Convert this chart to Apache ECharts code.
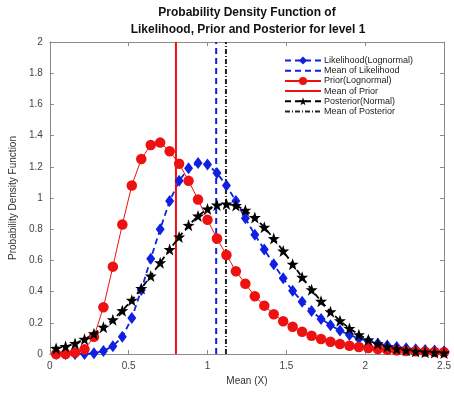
<!DOCTYPE html>
<html><head><meta charset="utf-8">
<script src="https://cdn.jsdelivr.net/npm/echarts@6/dist/echarts.min.js"></script>
<style>html,body{margin:0;padding:0;background:#fff}#c{width:454px;height:398px}</style>
</head><body><div id="c"></div>
<script>
const xs = [0.04,0.10,0.16,0.22,0.28,0.34,0.40,0.46,0.52,0.58,0.64,0.70,0.76,0.82,0.88,0.94,1.00,1.06,1.12,1.18,1.24,1.30,1.36,1.42,1.48,1.54,1.60,1.66,1.72,1.78,1.84,1.90,1.96,2.02,2.08,2.14,2.20,2.26,2.32,2.38,2.44,2.50];
const likelihood = [0.00,0.00,0.00,0.00,0.005,0.02,0.05,0.11,0.23,0.41,0.61,0.80,0.98,1.11,1.19,1.225,1.215,1.16,1.08,0.98,0.87,0.765,0.67,0.575,0.485,0.405,0.335,0.275,0.225,0.185,0.15,0.122,0.10,0.082,0.067,0.055,0.045,0.037,0.031,0.026,0.022,0.018];
const prior = [0.00,0.00,0.01,0.03,0.11,0.30,0.56,0.83,1.08,1.25,1.34,1.355,1.30,1.22,1.11,0.99,0.86,0.74,0.635,0.53,0.45,0.37,0.31,0.255,0.21,0.175,0.143,0.117,0.096,0.079,0.064,0.053,0.045,0.038,0.032,0.027,0.023,0.020,0.017,0.015,0.013,0.011];
const posterior = [0.036,0.048,0.068,0.095,0.13,0.172,0.22,0.278,0.345,0.42,0.50,0.585,0.67,0.75,0.825,0.885,0.93,0.955,0.962,0.952,0.922,0.875,0.813,0.74,0.66,0.576,0.492,0.412,0.338,0.271,0.213,0.164,0.124,0.091,0.066,0.047,0.033,0.024,0.017,0.012,0.009,0.007];
const meanLikelihood = 1.055;
const meanPrior = 0.80;
const meanPosterior = 1.117;
const yRange = [0,2];
const names = ['Likelihood(Lognormal)','Mean of Likelihood','Prior(Lognormal)','Mean of Prior','Posterior(Normal)','Mean of Posterior'];

const pair = arr => xs.map((x,i)=>[x,arr[i]]);
const vline = m => [[m,yRange[0]],[m,yRange[1]]];
const star = 'path://M0,-10 L2.35,-3.24 L9.51,-3.09 L3.8,1.24 L5.88,8.09 L0,4 L-5.88,8.09 L-3.8,1.24 L-9.51,-3.09 L-2.35,-3.24 Z';
const FONT = '"Liberation Sans", Arial, sans-serif';
const BLUE = '#1020e0', RED = '#ee1111', BLK = '#000';
const axCol = '#8a8a8a';

const chart = echarts.init(document.getElementById('c'), null, {renderer:'canvas'});
chart.setOption({
  animation:false,
  backgroundColor:'#fff',
  textStyle:{fontFamily:FONT},
  graphic:[
    {type:'text', x:247, y:13, style:{text:'Probability Density Function of', font:'bold 12px '+FONT, fill:'#111', textAlign:'center', textVerticalAlign:'middle'}},
    {type:'text', x:248, y:30, style:{text:'Likelihood, Prior and Posterior for level 1', font:'bold 12px '+FONT, fill:'#111', textAlign:'center', textVerticalAlign:'middle'}}
  ],
  grid:{left:48, top:42, width:401, height:312, containLabel:false},
  legend:{
    orient:'vertical', left:284, top:56, padding:0, itemWidth:36, itemHeight:10, itemGap:1.2,
    textStyle:{fontSize:9, color:'#222', fontFamily:FONT, padding:[0,0,0,-2]},
    data:[
      {name:names[0]},
      {name:names[1], itemStyle:{opacity:0}},
      {name:names[2]},
      {name:names[3], itemStyle:{opacity:0}},
      {name:names[4]},
      {name:names[5], itemStyle:{opacity:0}}
    ]
  },
  xAxis:[
    {type:'value', min:0, max:2.5, interval:0.5, name:'Mean (X)', nameLocation:'middle', nameGap:22,
     nameTextStyle:{fontSize:10, color:'#333'},
     axisLine:{show:true, onZero:false, lineStyle:{color:axCol, width:1}},
     axisTick:{show:true, inside:true, length:4, lineStyle:{color:axCol}},
     axisLabel:{fontSize:10, color:'#444', margin:7, formatter:v=>String(v)},
     splitLine:{show:false}},
    {type:'value', min:0, max:2.5, interval:0.5, position:'top',
     axisLine:{show:true, onZero:false, lineStyle:{color:axCol, width:1}},
     axisTick:{show:true, inside:true, length:4, lineStyle:{color:axCol}},
     axisLabel:{show:false}, splitLine:{show:false}}
  ],
  yAxis:[
    {type:'value', min:0, max:2, interval:0.2, name:'Probability Density Function', nameLocation:'middle', nameGap:31,
     nameTextStyle:{fontSize:10, color:'#333'},
     axisLine:{show:true, onZero:false, lineStyle:{color:axCol, width:1}},
     axisTick:{show:true, inside:true, length:4, lineStyle:{color:axCol}},
     axisLabel:{fontSize:10, color:'#444', margin:7, formatter:v=>String(Math.round(v*10)/10)},
     splitLine:{show:false}},
    {type:'value', min:0, max:2, interval:0.2, position:'right',
     axisLine:{show:true, onZero:false, lineStyle:{color:axCol, width:1}},
     axisTick:{show:true, inside:true, length:4, lineStyle:{color:axCol}},
     axisLabel:{show:false}, splitLine:{show:false}}
  ],
  series:[
    {name:names[0], type:'line', data:pair(likelihood), symbol:'diamond', symbolSize:[9,12],
     itemStyle:{color:BLUE}, lineStyle:{color:BLUE, width:1.8, type:[6,4]}},
    {name:names[1], type:'line', data:vline(meanLikelihood), symbol:'none',
     itemStyle:{color:BLUE}, lineStyle:{color:BLUE, width:2, type:[6,4]}},
    {name:names[2], type:'line', data:pair(prior), symbol:'circle', symbolSize:10.5,
     itemStyle:{color:RED}, lineStyle:{color:RED, width:1}},
    {name:names[3], type:'line', data:vline(meanPrior), symbol:'none',
     itemStyle:{color:RED}, lineStyle:{color:RED, width:2}},
    {name:names[4], type:'line', data:pair(posterior), symbol:star, symbolSize:12,
     itemStyle:{color:BLK}, lineStyle:{color:BLK, width:1.8, type:[6,4]}},
    {name:names[5], type:'line', data:vline(meanPosterior), symbol:'none',
     itemStyle:{color:'#222'}, lineStyle:{color:'#222', width:2, type:[5,2,1,2]}}
  ]
});
</script></body></html>
